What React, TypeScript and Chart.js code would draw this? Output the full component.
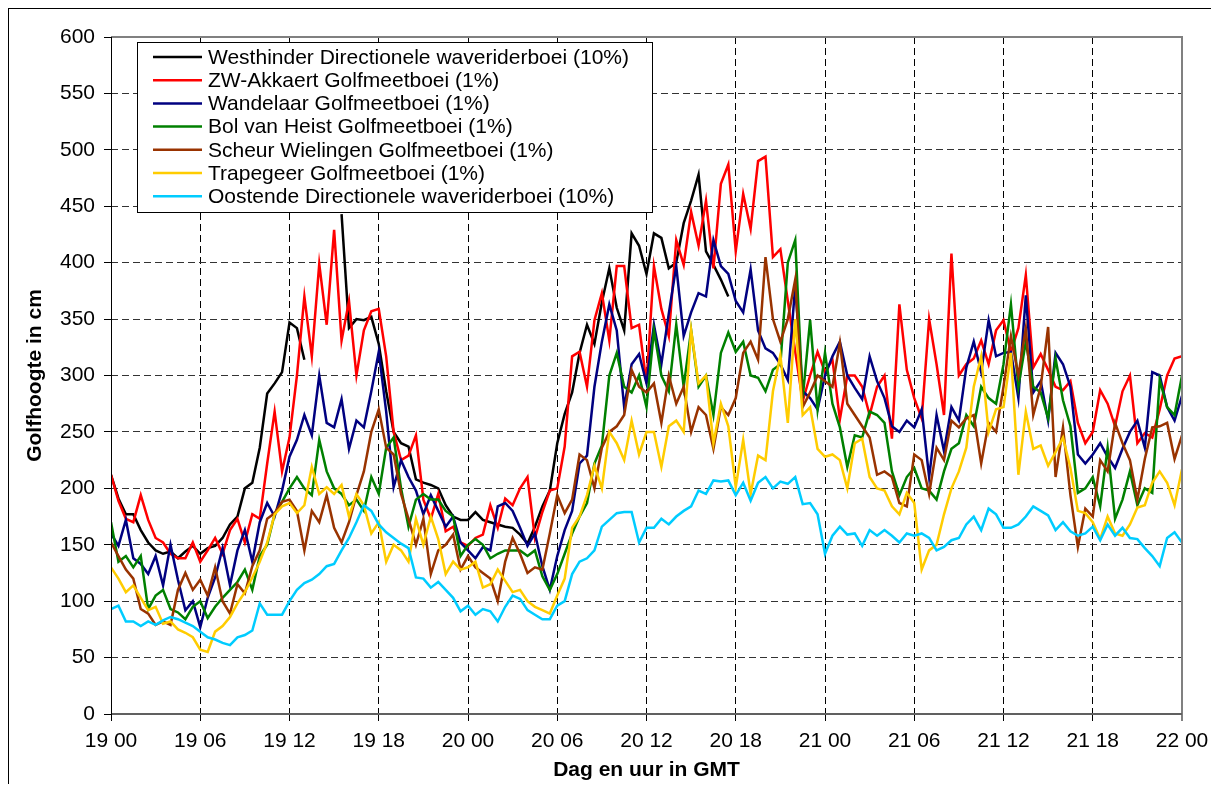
import React, { useEffect, useRef } from "react";
import { Chart, registerables } from "chart.js";

Chart.register(...registerables);

const FONT = '"Liberation Sans", Arial, sans-serif';

// Sample times: hours since 19 00 GMT, every half hour (0 .. 72)
const hours: number[] = Array.from({ length: 145 }, (_, i) => i / 2);

const xTickLabels = ["19 00", "19 06", "19 12", "19 18", "20 00", "20 06", "20 12", "20 18", "21 00", "21 06", "21 12", "21 18", "22 00"];

const N = null;

const westhinder = [
  212, 191, 177, 177, 163, 152, 145, 142, 144, 138, 144, 149,
  142, 147, 149, 156, 168, 175, 200, 205, 236, 284, 293, 303,
  347, 342, 314, N, N, N, N, 443, 342, 350, 349, 352,
  328, 286, 250, 240, 237, 208, 205, 203, 200, 185, 175, 172,
  172, 179, 172, 170, 168, 166, 165, 159, 151, 166, 184, 198,
  240, 266, 285, 320, 345, 328, 365, 395, 360, 340, 426, 415,
  390, 426, 422, 395, 400, 435, 455, 478, 410, 398, 385, 370,
  N, N, N, N, N, N, N, N, N, N, N, N,
  N, N, N, N, N, N, N, N, N, N, N, N,
  N, N, N, N, N, N, N, N, N, N, N, N,
  N, N, N, N, N, N, N, N, N, N, N, N,
  N, N, N, N, N, N, N, N, N, N, N, N,
  N,
];

const zwAkkaert = [
  212, 189, 173, 170, 194, 172, 156, 152, 142, 138, 138, 152,
  135, 145, 156, 142, 163, 173, 152, 177, 173, 222, 268, 215,
  245, 300, 370, 317, 399, 345, 429, 331, 366, 300, 340, 357,
  359, 317, 250, 225, 229, 247, 190, 173, 195, 162, 166, 152,
  149, 156, 159, 185, 165, 191, 185, 200, 210, 156, 179, 198,
  200, 237, 317, 321, 290, 349, 373, 331, 397, 397, 342, 345,
  293, 397, 359, 335, 420, 398, 445, 415, 455, 395, 470, 487,
  410, 461, 430, 490, 494, 405, 412, 366, 321, 277, 300, 321,
  303, 314, 261, 300, 300, 290, 265, 290, 300, 244, 363, 305,
  280, 262, 350, 310, 265, 408, 300, 310, 315, 331, 310, 340,
  349, 321, 342, 389, 307, 319, 305, 290, 287, 295, 258, 240,
  250, 287, 275, 255, 286, 300, 240, 249, 245, 270, 300, 315,
  317,
];

const wandelaar = [
  160, 149, 172, 138, 133, 124, 140, 114, 150, 119, 92, 100,
  77, 103, 121, 147, 114, 145, 163, 135, 170, 187, 175, 198,
  228, 243, 265, 247, 300, 258, 254, 279, 235, 260, 254, 286,
  321, 268, 201, 225, 210, 198, 177, 194, 180, 166, 175, 152,
  145, 138, 148, 145, 184, 187, 180, 165, 149, 160, 131, 110,
  140, 163, 180, 222, 229, 290, 330, 363, 340, 272, 310, 319,
  293, 345, 310, 355, 397, 335, 356, 373, 370, 420, 397, 390,
  366, 356, 394, 340, 324, 320, 310, 296, 380, 286, 280, 270,
  300, 317, 330, 300, 289, 279, 317, 295, 280, 255, 250, 260,
  254, 270, 210, 265, 233, 272, 260, 307, 330, 303, 349, 317,
  320, 321, 280, 371, 285, 295, 260, 320, 310, 290, 230, 222,
  230, 240, 228, 218, 235, 250, 260, 236, 303, 300, 272, 260,
  282,
];

const bolVanHeist = [
  170, 135, 140, 130, 140, 93, 105, 110, 93, 90, 84, 95,
  100, 85, 95, 103, 110, 117, 128, 110, 140, 150, 177, 188,
  200, 210, 200, 194, 243, 215, 200, 195, 185, 190, 180, 210,
  195, 236, 245, 200, 166, 190, 195, 190, 190, 180, 175, 140,
  150, 155, 150, 138, 142, 145, 145, 145, 140, 145, 122, 110,
  124, 142, 160, 175, 187, 222, 238, 300, 320, 290, 285, 300,
  272, 340, 300, 286, 345, 290, 340, 290, 300, 265, 320, 338,
  321, 330, 300, 298, 286, 305, 310, 400, 420, 280, 349, 270,
  320, 275, 254, 219, 247, 245, 268, 265, 258, 215, 194, 210,
  218, 200, 198, 190, 215, 235, 240, 265, 255, 290, 280, 275,
  310, 363, 290, 330, 290, 285, 262, 315, 278, 255, 196, 200,
  210, 184, 236, 173, 190, 215, 185, 200, 196, 296, 272, 265,
  300,
];

const scheurWielingen = [
  152, 140, 128, 120, 93, 89, 79, 82, 79, 110, 125, 110,
  119, 105, 130, 100, 89, 115, 107, 131, 145, 173, 178, 188,
  190, 180, 145, 180, 170, 194, 165, 152, 170, 194, 215, 250,
  270, 236, 230, 195, 173, 150, 173, 124, 145, 150, 159, 128,
  140, 130, 125, 120, 100, 135, 156, 142, 125, 130, 128, 160,
  194, 178, 190, 230, 225, 200, 236, 250, 255, 265, 305, 290,
  285, 293, 258, 300, 275, 290, 250, 272, 265, 235, 272, 265,
  280, 320, 330, 314, 405, 350, 330, 350, 385, 272, 285, 300,
  295, 290, 329, 275, 265, 255, 245, 212, 215, 210, 187, 184,
  230, 225, 195, 236, 225, 260, 254, 262, 265, 222, 258, 250,
  290, 335, 300, 342, 265, 290, 343, 210, 254, 194, 148, 182,
  175, 225, 215, 258, 240, 225, 190, 226, 254, 255, 258, 226,
  247,
];

const trapegeer = [
  130, 120, 108, 114, 103, 92, 95, 80, 82, 75, 72, 68,
  57, 55, 73, 78, 86, 98, 108, 121, 135, 152, 177, 184,
  187, 178, 185, 219, 195, 201, 195, 203, 175, 195, 185, 160,
  170, 135, 150, 145, 135, 173, 150, 175, 155, 124, 135, 128,
  130, 135, 112, 115, 128, 118, 108, 110, 100, 95, 92, 89,
  105, 120, 165, 175, 194, 220, 200, 250, 240, 225, 260, 230,
  250, 250, 219, 255, 260, 250, 340, 293, 300, 240, 275, 255,
  201, 243, 195, 229, 225, 286, 318, 258, 350, 265, 272, 235,
  228, 230, 225, 200, 240, 244, 210, 200, 198, 184, 177, 196,
  187, 128, 145, 150, 177, 200, 215, 236, 290, 317, 250, 270,
  272, 320, 212, 268, 235, 238, 220, 232, 245, 218, 180, 178,
  170, 155, 175, 160, 158, 168, 183, 185, 205, 215, 205, 185,
  217,
];

const oostende = [
  93, 96, 82, 82, 78, 82, 79, 83, 86, 84, 81, 78,
  73, 68, 66, 63, 61, 68, 70, 74, 98, 88, 88, 88,
  100, 110, 116, 119, 124, 131, 133, 145, 156, 170, 185, 180,
  168, 161, 156, 151, 147, 121, 120, 112, 117, 110, 103, 91,
  96, 88, 93, 91, 82, 95, 105, 102, 92, 88, 84, 84,
  96, 100, 124, 135, 138, 145, 166, 172, 178, 179, 179, 152,
  165, 165, 173, 168, 175, 180, 184, 198, 195, 207, 206, 207,
  194, 205, 189, 205, 210, 200, 206, 204, 210, 186, 187, 177,
  142, 158, 166, 159, 160, 149, 163, 158, 163, 158, 152, 160,
  158, 160, 156, 145, 148, 154, 156, 168, 175, 163, 182, 177,
  165, 165, 168, 175, 184, 180, 176, 163, 170, 162, 158, 160,
  166, 154, 168, 158, 165, 156, 155, 147, 140, 131, 156, 161,
  152,
];

const seriesNames = [
  "Westhinder Directionele waveriderboei (10%)",
  "ZW-Akkaert Golfmeetboei (1%)",
  "Wandelaar Golfmeetboei (1%)",
  "Bol van Heist Golfmeetboei (1%)",
  "Scheur Wielingen Golfmeetboei (1%)",
  "Trapegeer Golfmeetboei (1%)",
  "Oostende Directionele waveriderboei (10%)",
];
const seriesColors = ["#000000", "#FF0000", "#000080", "#008000", "#993300", "#FFCC00", "#00CCFF"];
const seriesValues = [westhinder, zwAkkaert, wandelaar, bolVanHeist, scheurWielingen, trapegeer, oostende];

const plotFrame = {
  id: "plotFrame",
  afterDatasetsDraw(chart: any) {
    const { ctx, chartArea } = chart;
    const { left, right, top, bottom } = chartArea;
    ctx.save();
    ctx.strokeStyle = "#808080";
    ctx.lineWidth = 2;
    ctx.beginPath();
    ctx.moveTo(left, top);
    ctx.lineTo(right, top);
    ctx.lineTo(right, bottom + 7);
    ctx.stroke();
    ctx.strokeStyle = "#606060";
    ctx.beginPath();
    ctx.moveTo(left, bottom);
    ctx.lineTo(right, bottom);
    ctx.stroke();
    ctx.strokeStyle = "#000";
    ctx.lineWidth = 1;
    ctx.beginPath();
    ctx.moveTo(left + 0.5, top);
    ctx.lineTo(left + 0.5, bottom + 7);
    ctx.stroke();
    ctx.restore();
  },
};

const boxLegend = {
  id: "boxLegend",
  afterDraw(chart: any) {
    const ctx = chart.ctx;
    const bx = 128, by = 33, bw = 515, bh = 170;
    ctx.save();
    ctx.fillStyle = "#fff";
    ctx.fillRect(bx, by, bw, bh);
    ctx.strokeStyle = "#000";
    ctx.lineWidth = 1;
    ctx.strokeRect(bx + 0.5, by + 0.5, bw, bh);
    ctx.font = `21px ${FONT}`;
    ctx.textBaseline = "middle";
    chart.data.datasets.forEach((ds: any, i: number) => {
      const y = 48 + i * 23.2;
      ctx.strokeStyle = ds.borderColor;
      ctx.lineWidth = 2.5;
      ctx.beginPath();
      ctx.moveTo(144, y);
      ctx.lineTo(193, y);
      ctx.stroke();
      ctx.fillStyle = "#000";
      ctx.fillText(ds.label, 199, y + 1);
    });
    ctx.restore();
  },
};

export default function App() {
  const ref = useRef<HTMLCanvasElement | null>(null);

  useEffect(() => {
    if (!ref.current) return;
    const datasets = seriesNames.map((name, i) => ({
      label: name,
      data: seriesValues[i],
      borderColor: seriesColors[i],
      backgroundColor: seriesColors[i],
      borderWidth: 2.5,
      pointRadius: 0,
      tension: 0,
      fill: false,
      spanGaps: false,
      order: seriesNames.length - i,
    }));

    const chart = new Chart(ref.current, {
      type: "line",
      data: { labels: hours, datasets },
      options: {
        responsive: false,
        animation: false,
        events: [],
        layout: { padding: { top: 28, right: 37, left: 0, bottom: 0 } },
        plugins: { legend: { display: false }, tooltip: { enabled: false } },
        scales: {
          x: {
            type: "linear",
            min: 0,
            max: 72,
            afterFit: (s: any) => {
              s.height = 70;
            },
            ticks: {
              stepSize: 6,
              autoSkip: false,
              maxRotation: 0,
              minRotation: 0,
              padding: 8,
              color: "#000",
              font: { family: FONT, size: 21 },
              callback: (v: any) => xTickLabels[Math.round(Number(v) / 6)],
            },
            grid: {
              color: (c: any) =>
                c.tick && (c.tick.value === 0 || c.tick.value === 72) ? "rgba(0,0,0,0)" : "#000",
              lineWidth: 1,
              tickLength: 7,
              tickColor: "#000",
              tickWidth: 1,
            },
            border: { display: false, dash: [7, 4] },
            title: {
              display: true,
              text: "Dag en uur in GMT",
              color: "#000",
              font: { family: FONT, size: 21, weight: "bold" },
              padding: { top: 0, bottom: 1 },
            },
          },
          y: {
            min: 0,
            max: 600,
            afterFit: (s: any) => {
              s.width = 102;
            },
            ticks: {
              stepSize: 50,
              padding: 9,
              color: "#000",
              font: { family: FONT, size: 21 },
            },
            grid: {
              color: (c: any) =>
                c.tick && (c.tick.value === 0 || c.tick.value === 600) ? "rgba(0,0,0,0)" : "#333",
              lineWidth: 1,
              tickLength: 7,
              tickColor: "#000",
              tickWidth: 1,
            },
            border: { display: false, dash: [7, 4] },
            title: {
              display: true,
              text: "Golfhoogte in cm",
              color: "#000",
              font: { family: FONT, size: 21, weight: "bold" },
              padding: { top: 14, bottom: 0 },
            },
          },
        },
      },
      plugins: [plotFrame, boxLegend],
    } as any);
    return () => chart.destroy();
  }, []);

  return (
    <div
      style={{
        position: "relative",
        width: 1210,
        height: 775,
        borderTop: "1px solid #000",
        borderLeft: "1px solid #000",
        background: "#fff",
      }}
    >
      <canvas ref={ref} width={1210} height={775} style={{ display: "block" }} />
    </div>
  );
}
